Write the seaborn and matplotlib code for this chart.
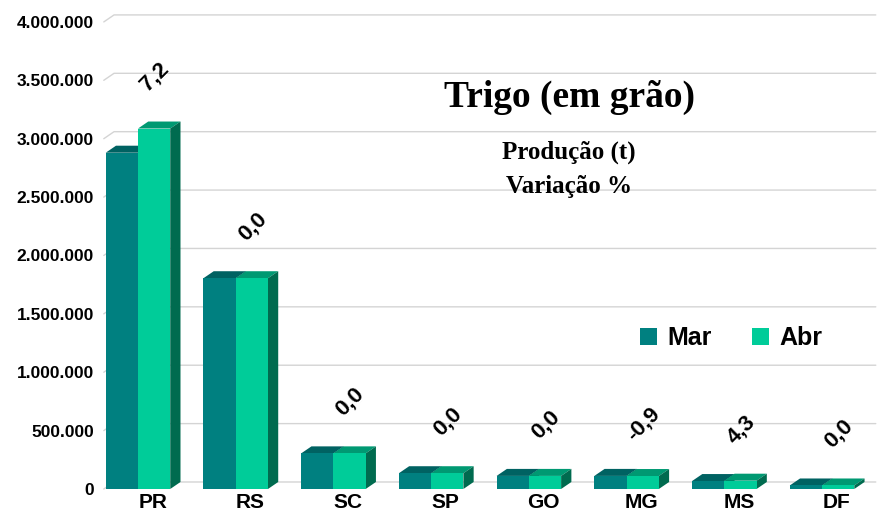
import numpy as np
import pandas as pd
import matplotlib
matplotlib.use("Agg")
import matplotlib.pyplot as plt
import seaborn as sns
from matplotlib.patches import Polygon
from matplotlib.ticker import FuncFormatter

# === Data ===
estados = ["PR", "RS", "SC", "SP", "GO", "MG", "MS", "DF"]
producao_mar = [2880000, 1805000, 305000, 135000, 112000, 112000, 68000, 30000]
producao_abr = [3087000, 1805000, 305000, 135000, 112000, 111000, 71000, 30000]
variacao = ["7,2", "0,0", "0,0", "0,0", "0,0", "-0,9", "4,3", "0,0"]
meses = ["Mar", "Abr"]

df = pd.DataFrame({
    "Estado": estados * 2,
    "Mes": ["Mar"] * len(estados) + ["Abr"] * len(estados),
    "Producao": producao_mar + producao_abr,
})

# colours: front, top, side
cores_frente = {"Mar": "#008080", "Abr": "#00CC99"}
cores_topo = {"Mar": "#006262", "Abr": "#009972"}
cores_lado = {"Mar": "#005858", "Abr": "#006B4F"}

sns.set_style("white")
plt.rcParams["font.family"] = ["Liberation Sans", "DejaVu Sans"]
plt.rcParams["text.color"] = "black"
plt.rcParams["xtick.color"] = "black"
plt.rcParams["ytick.color"] = "black"

fig = plt.figure(figsize=(8.84, 5.15), dpi=100)
ax = fig.add_axes([0.1174, 0.0505, 0.8733, 0.9296])

sns.barplot(data=df, x="Estado", y="Producao", hue="Mes", hue_order=meses,
            palette=cores_frente, width=0.66, gap=0, saturation=1,
            linewidth=0, ax=ax, zorder=3)

ymax = 4100000
ax.set_xlim(-0.35, 7.55)
ax.set_ylim(0, ymax)

# depth of the fake 3D effect (10 px across, 7 px up)
dx = 0.105
dy = 60000

# back wall gridlines
for v in np.arange(0, 4000001, 500000):
    ax.plot([-0.35, -0.35 + dx, 7.55], [v, v + dy, v + dy],
            color="#D4D4D4", lw=1, zorder=1, clip_on=False)

# top and side faces of each bar
for bars, mes in zip(ax.containers, meses):
    for p in bars:
        x0 = p.get_x()
        x1 = x0 + p.get_width()
        h = p.get_height()
        topo = Polygon([(x0, h), (x0 + dx, h + dy), (x1 + dx, h + dy), (x1, h)],
                       closed=True, facecolor=cores_topo[mes], edgecolor="none", zorder=2)
        lado = Polygon([(x1, 0), (x1 + dx, dy), (x1 + dx, h + dy), (x1, h)],
                       closed=True, facecolor=cores_lado[mes], edgecolor="none", zorder=2)
        ax.add_patch(topo)
        ax.add_patch(lado)

# variation labels
for i, txt in enumerate(variacao):
    topo = max(producao_mar[i], producao_abr[i])
    ax.annotate(txt, (i, topo), xytext=(12, 37), textcoords="offset points",
                rotation=45, ha="center", va="center", fontsize=16,
                fontweight="bold", color="black")

ax.set_xticks(np.arange(len(estados)) + 0.15)
ax.set_xticklabels(estados, fontsize=15, fontweight="bold")
ax.set_yticks(np.arange(0, 4000001, 500000))
ax.yaxis.set_major_formatter(FuncFormatter(lambda v, _: f"{int(v):,}".replace(",", ".")))
for lab in ax.get_yticklabels():
    lab.set_fontweight("bold")
ax.tick_params(axis="y", labelsize=12.5, length=0, pad=7)
ax.tick_params(axis="x", length=0, pad=3)
ax.set_xlabel("")
ax.set_ylabel("")
for s in ax.spines.values():
    s.set_visible(False)

handles, labels = ax.get_legend_handles_labels()
ax.legend(handles, labels, loc="center left", bbox_to_anchor=(0.665, 0.315),
          frameon=False, ncol=2, handlelength=0.7, handleheight=0.7,
          handletextpad=0.4, columnspacing=1.6,
          prop={"size": 18, "weight": "bold"})

fig.text(569 / 884, 1 - 97 / 515, "Trigo (em grão)", ha="center", va="center",
         fontsize=27, fontweight="bold", family="Liberation Serif")
fig.text(569 / 884, 1 - 152 / 515, "Produção (t)", ha="center", va="center",
         fontsize=18, fontweight="bold", family="Liberation Serif")
fig.text(569 / 884, 1 - 187 / 515, "Variação %", ha="center", va="center",
         fontsize=18, fontweight="bold", family="Liberation Serif")

fig.savefig("out.png", dpi=100)
